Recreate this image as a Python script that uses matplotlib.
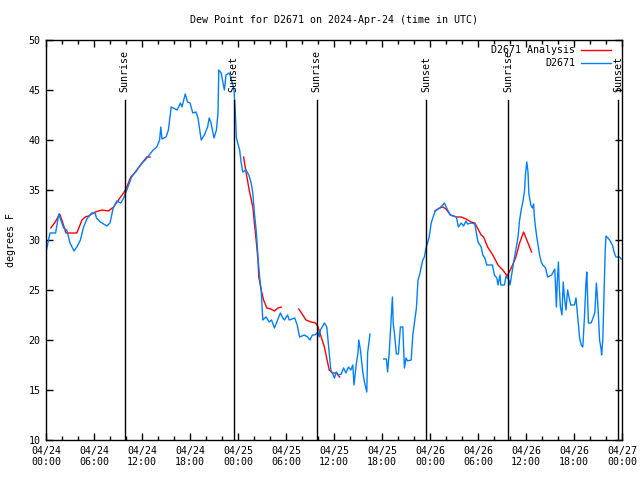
"""Dew point for station D2671, gnuplot-style time series."""
import numpy as np
import matplotlib
matplotlib.use("Agg")
import matplotlib.pyplot as plt
from matplotlib.ticker import MultipleLocator

# hours since 2024-04-24 00:00 UTC
obs_hours = [
    0.0, 0.5, 1.2, 1.6, 2.2, 2.6, 3.0, 3.5, 3.85, 4.3, 4.7, 5.1, 5.7, 6.15, 6.3, 6.8,
    7.2, 7.6, 8.0, 8.4, 8.85, 9.35, 9.7, 10.1, 10.7, 11.35, 12.0, 12.4, 12.8, 13.4,
    13.85, 14.2, 14.35, 14.5, 15.0, 15.3, 15.65, 16.15, 16.4, 16.8, 17.0, 17.4, 17.7,
    18.0, 18.35, 18.75, 19.0, 19.4, 19.8, 20.2, 20.4, 20.6, 20.85, 21.0, 21.3, 21.5,
    21.6, 21.9, 22.1, 22.3, 22.5, 22.9, 23.1, 23.5, 23.65, 23.8, 24.2, 24.4, 24.6,
    25.0, 25.35, 25.65, 25.85, 26.05, 26.3, 26.5, 26.7, 26.9, 27.1, 27.5, 27.9, 28.2,
    28.55, 28.85, 29.3, 29.6, 29.8, 30.2, 30.4, 31.1, 31.4, 31.7, 32.3, 32.7, 33.0,
    33.3, 33.6, 34.0, 34.15, 34.3, 34.8, 35.1, 35.4, 35.6, 35.8, 36.05, 36.3, 36.55,
    36.9, 37.2, 37.5, 37.8, 38.1, 38.35, 38.5, 38.8, 39.0, 39.1, 39.3, 39.6, 39.8,
    40.1, 40.2, 40.5, 41.3, 42.2, 42.55, 42.7, 42.9, 43.15, 43.3, 43.4, 43.55, 43.8,
    44.05, 44.3, 44.6, 44.8, 45.0, 45.2, 45.65, 45.85, 46.05, 46.3, 46.5, 46.7, 46.9,
    47.1, 47.3, 47.5, 47.7, 47.9, 48.15, 48.35, 48.65, 49.2, 49.6, 49.8, 50.2, 50.55,
    51.3, 51.55, 51.9, 52.2, 52.5, 52.7, 53.15, 53.6, 53.8, 54.0, 54.4, 54.6, 54.85,
    55.1, 55.8, 56.05, 56.35, 56.5, 56.75, 56.85, 57.3, 57.5, 57.85, 58.0, 58.2, 58.5,
    58.8, 59.0, 59.2, 59.4, 59.6, 59.8, 59.95, 60.1, 60.25, 60.35, 60.6, 60.8, 60.95,
    61.05, 61.2, 61.35, 61.5, 61.7, 61.9, 62.1, 62.45, 62.7, 62.95, 63.2, 63.6, 63.8,
    63.9, 64.05, 64.15, 64.3, 64.5, 64.65, 64.8, 65.0, 65.2, 65.4, 65.6, 66.05, 66.25,
    66.5, 66.7, 66.9, 67.1, 67.3, 67.5, 67.6, 67.8, 68.15, 68.6, 68.8, 69.0, 69.2,
    69.4, 69.45, 69.6, 69.8, 69.9, 70.0, 70.45, 70.8, 71.05, 71.25, 71.7, 71.9,
]
obs_dewpt = [
    28.8, 30.7, 30.7, 32.6, 31.2, 31.0, 29.7, 28.9, 29.3, 30.0, 31.3, 32.1, 32.7, 32.7,
    32.2, 31.8, 31.6, 31.4, 31.7, 33.2, 33.9, 33.7, 34.2, 35.0, 36.3, 37.0, 37.7, 38.0,
    38.4, 39.0, 39.3, 40.0, 41.3, 40.1, 40.3, 41.0, 43.3, 43.1, 43.0, 43.7, 43.3, 44.6,
    43.8, 43.7, 42.7, 42.8, 42.2, 40.0, 40.5, 41.3, 42.2, 41.8, 40.8, 40.2, 41.0, 42.7,
    47.0, 46.7, 45.8, 45.0, 46.5, 46.7, 46.3, 45.0, 43.0, 40.2, 39.0, 37.7, 36.8, 37.0,
    36.5, 35.7, 34.7, 32.7, 30.7, 28.3, 26.3, 25.0, 22.0, 22.3, 21.8, 22.0, 21.2, 21.8,
    22.7, 22.2, 22.0, 22.5, 22.0, 22.2, 21.5, 20.3, 20.5, 20.3, 20.0, 20.5, 20.5, 20.8,
    20.3, 21.0, 21.7, 21.3, 18.7, 17.0, 16.7, 16.2, 16.8, 16.5, 16.6, 17.2, 16.7, 17.3,
    17.0, 17.5, 15.5, 17.7, 18.7, 20.0, 19.0, 16.8, 15.8, 14.8, 18.7, 20.6, np.nan,
    18.1, 18.1, 16.8, 18.7, 22.2, 24.3, 21.7, 20.7, 18.6, 18.6, 21.3, 21.3, 17.2, 18.2,
    17.9, 18.0, 20.5, 21.7, 23.2, 26.0, 26.5, 27.3, 28.0, 28.3, 29.2, 29.7, 30.3, 31.7,
    32.2, 32.9, 33.2, 33.5, 33.7, 33.0, 32.5, 32.3, 31.3, 31.7, 31.4, 31.9, 31.6, 31.7,
    31.6, 30.7, 29.8, 29.3, 28.5, 28.2, 27.5, 27.5, 26.5, 26.2, 25.5, 26.5, 25.5, 25.5,
    26.4, 26.0, 25.5, 26.5, 28.0, 29.3, 30.3, 32.0, 33.0, 33.8, 34.8, 36.7, 37.8, 36.8,
    34.7, 33.5, 33.2, 33.6, 32.3, 31.2, 30.3, 29.5, 28.5, 27.8, 27.5, 27.2, 26.3, 26.4,
    26.5, 27.1, 23.3, 25.7, 27.8, 25.5, 23.3, 22.5, 25.8, 24.3, 23.0, 25.0, 24.2, 23.5,
    23.5, 24.2, 22.0, 20.2, 19.5, 19.3, 22.2, 25.8, 26.8, 21.7, 21.7, 22.7, 25.7, 23.3,
    20.0, 19.0, 18.5, 20.0, 25.8, 29.0, 30.4, 30.0, 29.5, 28.7, 28.3, 28.3, 28.1,
]

# analysis series, NaN marks the gaps
ana_hours = [
    0.6, 1.15, 1.7, 1.9, 2.5, 3.85, 4.5, 4.9, 5.3, 6.15, 7.0, 7.8, 8.45, 9.05, 9.7,
    10.1, 10.6, 11.2, 11.8, 12.6, 13.0, 18.0,
    24.7, 25.0, 25.4, 25.85, 26.05, 26.3, 26.5, 26.6, 26.9, 27.2, 27.6, 28.1, 28.55,
    29.0, 29.4, 30.5,
    31.6, 32.1, 32.5, 33.15, 33.7, 34.0, 34.4, 34.8, 35.4, 35.8, 36.3, 36.7, 42.0,
    48.6, 49.2, 49.6, 50.0, 50.55, 51.3, 51.9, 52.5, 53.15, 53.6, 54.0, 54.4, 54.7,
    55.2, 55.85, 56.5, 57.1, 57.65, 58.15, 58.7, 59.2, 59.7, 60.2, 60.7,
]
ana_dewpt = [
    31.2, 31.8, 32.6, 32.2, 30.7, 30.7, 32.0, 32.3, 32.4, 32.8, 33.0, 32.9, 33.3, 34.0,
    34.7, 35.3, 36.3, 36.8, 37.5, 38.3, 38.3, np.nan,
    38.3, 36.8, 35.0, 33.3, 31.7, 29.7, 28.0, 26.3, 25.0, 24.0, 23.2, 23.1, 22.9,
    23.2, 23.3, np.nan,
    23.1, 22.5, 22.0, 21.8, 21.7, 21.3, 20.3, 19.3, 17.0, 16.7, 16.7, 16.3, np.nan,
    32.9, 33.2, 33.3, 33.1, 32.5, 32.3, 32.3, 32.1, 31.8, 31.7, 31.1, 30.5, 30.3,
    29.3, 28.5, 27.5, 27.0, 26.4, 27.2, 28.2, 29.7, 30.8, 29.8, 28.8,
]

sun_hours = [9.85, 23.48, 33.83, 47.5, 57.8, 71.52]
sun_labels = ["Sunrise", "Sunset", "Sunrise", "Sunset", "Sunrise", "Sunset"]

xtick_hours = [0, 6, 12, 18, 24, 30, 36, 42, 48, 54, 60, 66, 72]
xtick_labels = [
    "04/24\n00:00", "04/24\n06:00", "04/24\n12:00", "04/24\n18:00",
    "04/25\n00:00", "04/25\n06:00", "04/25\n12:00", "04/25\n18:00",
    "04/26\n00:00", "04/26\n06:00", "04/26\n12:00", "04/26\n18:00",
    "04/27\n00:00",
]

plt.rcParams["font.family"] = "DejaVu Sans Mono"
plt.rcParams["font.size"] = 7.2

fig = plt.figure(figsize=(6.4, 4.8), dpi=100)
ax = fig.add_axes([46 / 640, 40 / 480, 576 / 640, 400 / 480])

ax.plot(ana_hours, ana_dewpt, color="#ff0000", linewidth=1.0, label="D2671 Analysis")
ax.plot(obs_hours, obs_dewpt, color="#0080ff", linewidth=1.0, label="D2671")

for h, lab in zip(sun_hours, sun_labels):
    ax.plot([h, h], [10, 44.0], color="black", linewidth=1.0)
    ax.text(h, 44.8, lab, rotation=90, ha="center", va="bottom")

ax.set_xlim(0, 72)
ax.set_ylim(10, 50)
ax.set_xticks(xtick_hours)
ax.set_xticklabels(xtick_labels)
ax.xaxis.set_minor_locator(MultipleLocator(2))
ax.set_yticks(range(10, 51, 5))
ax.tick_params(which="both", direction="in", top=True, right=True, width=1)
ax.tick_params(which="major", length=5, pad=4)
ax.tick_params(which="minor", length=3)
for s in ax.spines.values():
    s.set_linewidth(1.0)

ax.set_ylabel("degrees F", labelpad=9)
ax.set_title("Dew Point for D2671 on 2024-Apr-24 (time in UTC)", fontsize=7.2, pad=12)

leg = ax.legend(loc="upper right", bbox_to_anchor=(0.988, 0.997), frameon=False,
                markerfirst=False, handlelength=3.0, handletextpad=0.6,
                borderaxespad=0.0, labelspacing=0.3)
for t in leg.get_texts():
    t.set_ha("right")
leg._legend_box.align = "right"

fig.savefig("out.png", dpi=100)
